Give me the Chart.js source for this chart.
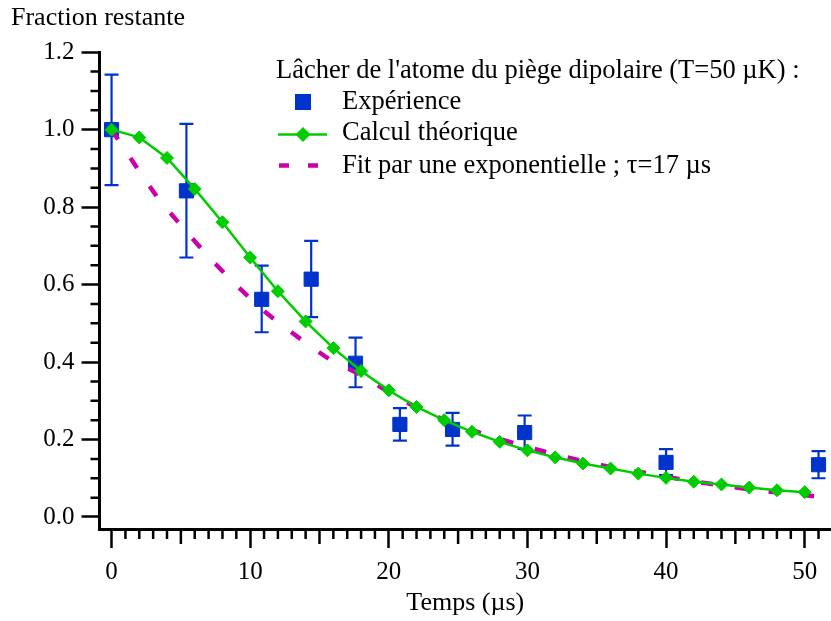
<!DOCTYPE html>
<html>
<head>
<meta charset="utf-8">
<script src="https://cdn.jsdelivr.net/npm/chart.js@4.4.1/dist/chart.umd.min.js"></script>
<style>
    html, body { margin: 0; padding: 0; background: #fff; }
    #wrap { width: 831px; height: 621px; }
</style>
</head>
<body>
<div id="wrap"><canvas id="myChart" width="831" height="621"></canvas></div>
<script>
// Expérience : temps (µs), fraction, barres d'erreur
const expX = [0, 5.4, 10.83, 14.4, 17.6, 20.8, 24.6, 29.8, 40.0, 51.0];
const expY = [1.0, 0.842, 0.562, 0.614, 0.397, 0.239, 0.226, 0.218, 0.141, 0.135];
const expHaut = [1.142, 1.015, 0.649, 0.713, 0.463, 0.281, 0.269, 0.262, 0.175, 0.170];
const expBas = [0.857, 0.670, 0.477, 0.516, 0.335, 0.197, 0.184, 0.176, 0.108, 0.100];

// Calcul théorique
const theoX = [0, 2, 4, 6, 8, 10, 12, 14, 16, 18, 20, 22, 24, 26, 28, 30, 32, 34, 36, 38, 40, 42, 44, 46, 48, 50];
const theoY = [1.0, 0.980, 0.927, 0.847, 0.761, 0.670, 0.583, 0.505, 0.436, 0.377, 0.327, 0.284, 0.250, 0.220,
    0.194, 0.172, 0.154, 0.138, 0.125, 0.112, 0.101, 0.091, 0.084, 0.076, 0.069, 0.064];

// Fit exponentiel
const fitX = [0, 1.7, 3.3, 5.1, 7.0, 9.1, 11.2, 13.5, 15.7, 17.9, 20.2, 22, 24.3, 26.6, 28.9, 31, 33.2, 35.3,
    37.7, 39.8, 42, 44.1, 46.3, 48.4, 50.6, 51.1];
const fitY = [1.0, 0.909, 0.826, 0.749, 0.672, 0.595, 0.526, 0.463, 0.408, 0.368, 0.318, 0.283, 0.247, 0.217,
    0.192, 0.171, 0.151, 0.134, 0.119, 0.105, 0.092, 0.081, 0.070, 0.062, 0.054, 0.052];

const xTicks = [0, 10, 20, 30, 40, 50];
const yTicks = [0, 0.2, 0.4, 0.6, 0.8, 1.0, 1.2];

const bleu = '#0033cc';
const vert = '#00cc00';
const magenta = '#cc00aa';
const police = "'Liberation Serif', 'Times New Roman', serif";

Chart.defaults.font.family = police;
Chart.defaults.color = '#000';

const ctx = document.getElementById('myChart').getContext('2d');

const toPoints = (xs, ys) => xs.map((x, i) => ({x: x, y: ys[i]}));

// barres d'erreur
const errorBars = {
    id: 'errorBars',
    beforeDatasetsDraw(chart) {
        const c = chart.ctx;
        const xs = chart.scales.x, ys = chart.scales.y;
        c.save();
        c.strokeStyle = bleu;
        c.lineWidth = 2.2;
        expX.forEach((x, i) => {
            const px = xs.getPixelForValue(x);
            const top = ys.getPixelForValue(expHaut[i]);
            const bot = ys.getPixelForValue(expBas[i]);
            c.beginPath();
            c.moveTo(px, top); c.lineTo(px, bot);
            c.moveTo(px - 7, top); c.lineTo(px + 7, top);
            c.moveTo(px - 7, bot); c.lineTo(px + 7, bot);
            c.stroke();
        });
        c.restore();
    }
};

// petites graduations
const minorTicks = {
    id: 'minorTicks',
    afterDraw(chart) {
        const c = chart.ctx;
        const xs = chart.scales.x, ys = chart.scales.y;
        const area = chart.chartArea;
        c.save();
        c.strokeStyle = '#000';
        c.lineWidth = 2.5;
        c.beginPath();
        for (let v = 1; v <= 51; v++) {
            if (v % 10 === 0) continue;
            const len = v % 5 === 0 ? 15 : 10;
            const px = xs.getPixelForValue(v);
            c.moveTo(px, area.bottom);
            c.lineTo(px, area.bottom + len);
        }
        for (let k = 1; k < 24; k++) {
            if (k % 4 === 0) continue;
            const py = ys.getPixelForValue(k * 0.05);
            c.moveTo(area.left, py);
            c.lineTo(area.left - 9, py);
        }
        c.stroke();
        c.restore();
    }
};

// légende dans le graphe
const legendeInterne = {
    id: 'legendeInterne',
    afterDraw(chart) {
        const c = chart.ctx;
        c.save();
        c.fillStyle = '#000';
        c.font = '26.5px ' + police;
        c.textBaseline = 'alphabetic';
        c.fillText("Lâcher de l'atome du piège dipolaire (T=50 µK) :", 276, 77.5);
        c.fillText('Expérience', 342, 108.5);
        c.fillText('Calcul théorique', 342, 140);
        c.fillText('Fit par une exponentielle ; τ=17 µs', 342, 172.5);

        c.fillStyle = bleu;
        c.fillRect(295, 94, 16, 16);

        c.strokeStyle = vert;
        c.lineWidth = 2.5;
        c.beginPath();
        c.moveTo(278, 134.5); c.lineTo(327, 134.5);
        c.stroke();
        c.fillStyle = vert;
        c.beginPath();
        c.moveTo(303, 127); c.lineTo(310.5, 134.5); c.lineTo(303, 142); c.lineTo(295.5, 134.5);
        c.closePath();
        c.fill();

        c.strokeStyle = magenta;
        c.lineWidth = 4.5;
        c.setLineDash([10, 19]);
        c.beginPath();
        c.moveTo(279, 165.5); c.lineTo(319, 165.5);
        c.stroke();
        c.restore();
    }
};

const myChart = new Chart(ctx, {
    type: 'line',
    data: {
        datasets: [
            {
                label: 'Calcul théorique',
                data: toPoints(theoX, theoY),
                borderColor: vert,
                backgroundColor: vert,
                borderWidth: 2.5,
                pointStyle: 'rectRot',
                pointRadius: 6.5,
                pointBorderWidth: 1,
                tension: 0,
                order: 0
            },
            {
                label: 'Fit par une exponentielle',
                data: toPoints(fitX, fitY),
                borderColor: magenta,
                borderWidth: 4.5,
                borderDash: [12, 22],
                pointRadius: 0,
                tension: 0.2,
                order: 1
            },
            {
                label: 'Expérience',
                data: toPoints(expX, expY),
                showLine: false,
                borderColor: bleu,
                backgroundColor: bleu,
                pointStyle: 'rect',
                pointRadius: 10,
                pointBorderWidth: 1,
                order: 2
            }
        ]
    },
    options: {
        responsive: false,
        animation: false,
        layout: { autoPadding: false, padding: { left: 11, right: 0, top: 0, bottom: 0 } },
        plugins: {
            legend: { display: false },
            tooltip: { enabled: false },
            title: {
                display: true,
                text: 'Fraction restante',
                align: 'start',
                color: '#000',
                font: { size: 26, weight: 'normal' },
                padding: { top: 3, bottom: 18 }
            }
        },
        scales: {
            x: {
                type: 'linear',
                min: -0.87,
                max: 51.9,
                afterBuildTicks: scale => { scale.ticks = xTicks.map(v => ({value: v})); },
                afterFit: scale => {
                    scale.height = 92;
                    scale.paddingLeft = 0;
                    scale.paddingRight = 0;
                },
                border: { display: true, color: '#000', width: 3 },
                grid: { drawOnChartArea: false, tickLength: 19, tickWidth: 2.5, tickColor: '#000', color: '#000' },
                ticks: { font: { size: 25 }, color: '#000', padding: 9, maxRotation: 0 },
                title: {
                    display: true,
                    text: 'Temps (µs)',
                    color: '#000',
                    font: { size: 26 },
                    padding: { top: 0, bottom: 2 }
                }
            },
            y: {
                type: 'linear',
                min: -0.031,
                max: 1.2,
                afterBuildTicks: scale => { scale.ticks = yTicks.map(v => ({value: v})); },
                afterFit: scale => { scale.width = 88.5; },
                border: { display: true, color: '#000', width: 3 },
                grid: { drawOnChartArea: false, tickLength: 18, tickWidth: 2.5, tickColor: '#000', color: '#000' },
                ticks: {
                    font: { size: 25 },
                    color: '#000',
                    padding: 7,
                    callback: value => value.toFixed(1)
                }
            }
        }
    },
    plugins: [errorBars, minorTicks, legendeInterne]
});
</script>
</body>
</html>
